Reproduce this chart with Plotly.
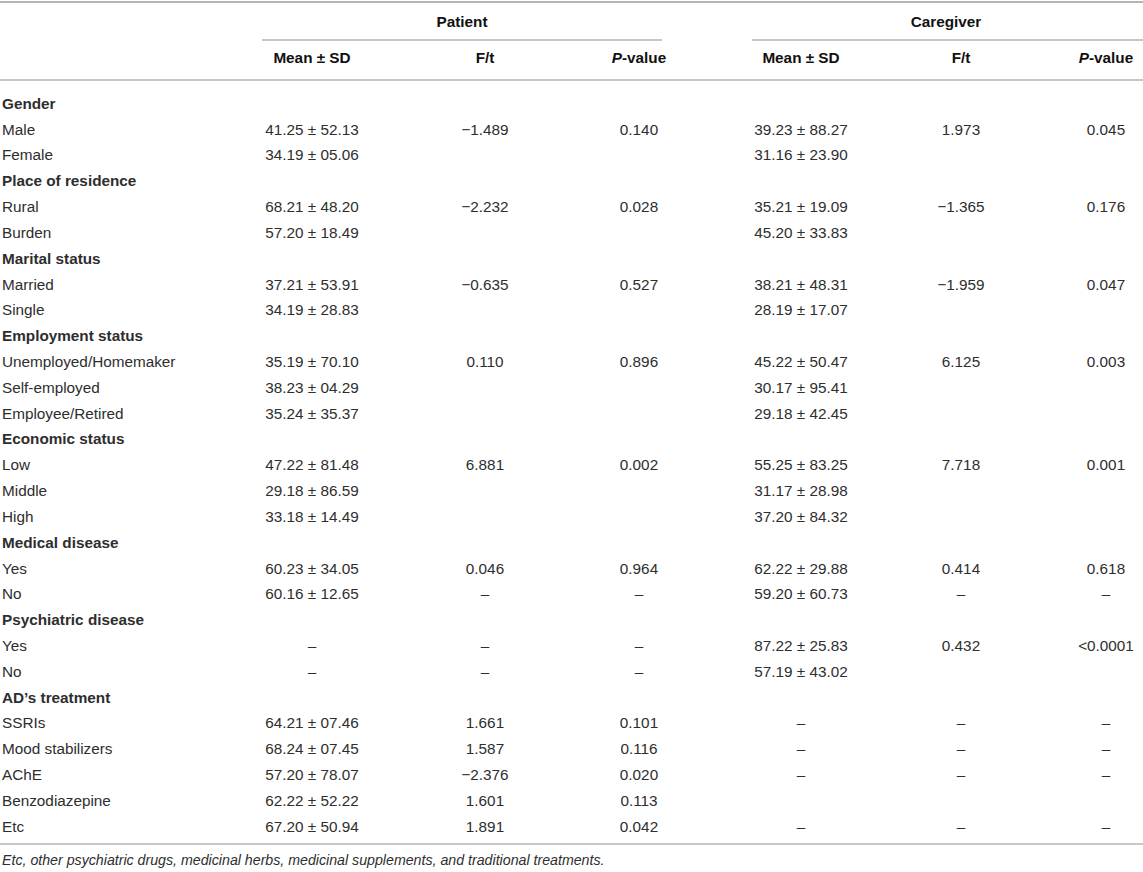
import plotly.graph_objects as go

# table content
row_labels = ["Gender", "Male", "Female",
              "Place of residence", "Rural", "Burden",
              "Marital status", "Married", "Single",
              "Employment status", "Unemployed/Homemaker", "Self-employed", "Employee/Retired",
              "Economic status", "Low", "Middle", "High",
              "Medical disease", "Yes", "No",
              "Psychiatric disease", "Yes", "No",
              "AD’s treatment", "SSRIs", "Mood stabilizers", "AChE", "Benzodiazepine", "Etc"]
is_group = [True, False, False,
            True, False, False,
            True, False, False,
            True, False, False, False,
            True, False, False, False,
            True, False, False,
            True, False, False,
            True, False, False, False, False, False]

patient_mean = ["", "41.25 ± 52.13", "34.19 ± 05.06",
                "", "68.21 ± 48.20", "57.20 ± 18.49",
                "", "37.21 ± 53.91", "34.19 ± 28.83",
                "", "35.19 ± 70.10", "38.23 ± 04.29", "35.24 ± 35.37",
                "", "47.22 ± 81.48", "29.18 ± 86.59", "33.18 ± 14.49",
                "", "60.23 ± 34.05", "60.16 ± 12.65",
                "", "–", "–",
                "", "64.21 ± 07.46", "68.24 ± 07.45", "57.20 ± 78.07", "62.22 ± 52.22", "67.20 ± 50.94"]
patient_ft = ["", "−1.489", "",
              "", "−2.232", "",
              "", "−0.635", "",
              "", "0.110", "", "",
              "", "6.881", "", "",
              "", "0.046", "–",
              "", "–", "–",
              "", "1.661", "1.587", "−2.376", "1.601", "1.891"]
patient_p = ["", "0.140", "",
             "", "0.028", "",
             "", "0.527", "",
             "", "0.896", "", "",
             "", "0.002", "", "",
             "", "0.964", "–",
             "", "–", "–",
             "", "0.101", "0.116", "0.020", "0.113", "0.042"]
caregiver_mean = ["", "39.23 ± 88.27", "31.16 ± 23.90",
                  "", "35.21 ± 19.09", "45.20 ± 33.83",
                  "", "38.21 ± 48.31", "28.19 ± 17.07",
                  "", "45.22 ± 50.47", "30.17 ± 95.41", "29.18 ± 42.45",
                  "", "55.25 ± 83.25", "31.17 ± 28.98", "37.20 ± 84.32",
                  "", "62.22 ± 29.88", "59.20 ± 60.73",
                  "", "87.22 ± 25.83", "57.19 ± 43.02",
                  "", "–", "–", "–", "", "–"]
caregiver_ft = ["", "1.973", "",
                "", "−1.365", "",
                "", "−1.959", "",
                "", "6.125", "", "",
                "", "7.718", "", "",
                "", "0.414", "–",
                "", "0.432", "",
                "", "–", "–", "–", "", "–"]
caregiver_p = ["", "0.045", "",
               "", "0.176", "",
               "", "0.047", "",
               "", "0.003", "", "",
               "", "0.001", "", "",
               "", "0.618", "–",
               "", "<0.0001", "",
               "", "–", "–", "–", "", "–"]

col_headers = ["<b>Mean ± SD</b>", "<b>F/t</b>", "<b><i>P</i>-value</b>",
               "<b>Mean ± SD</b>", "<b>F/t</b>", "<b><i>P</i>-value</b>"]
group_headers = ["<b>Patient</b>", "<b>Caregiver</b>"]
footnote = "<i>Etc, other psychiatric drugs, medicinal herbs, medicinal supplements, and traditional treatments.</i>"

W, H = 1143, 872
FONT = "Liberation Sans, Arial, Helvetica, sans-serif"
TXT = "#2e2e2e"
LINE = "#b4b4b4"
FS = 15.3

col_x = [312, 485, 639, 801, 961, 1106]
row0, pitch = 105, 25.82
row_y = [row0 + i * pitch for i in range(len(row_labels))]

fig = go.Figure()

# row labels
fig.add_trace(go.Scatter(
    x=[2] * len(row_labels), y=row_y, mode="text",
    text=["<b>%s</b>" % l if g else l for l, g in zip(row_labels, is_group)],
    textposition="middle right",
    textfont=dict(family=FONT, size=FS, color=TXT),
    hoverinfo="skip", showlegend=False))

# value columns
for cx, col in zip(col_x, [patient_mean, patient_ft, patient_p,
                           caregiver_mean, caregiver_ft, caregiver_p]):
    fig.add_trace(go.Scatter(
        x=[cx] * len(col), y=row_y, mode="text", text=col,
        textposition="middle center",
        textfont=dict(family=FONT, size=FS, color=TXT),
        hoverinfo="skip", showlegend=False))

# column headers
fig.add_trace(go.Scatter(
    x=col_x, y=[59] * len(col_x), mode="text", text=col_headers,
    textposition="middle center",
    textfont=dict(family=FONT, size=FS, color="#111111"),
    hoverinfo="skip", showlegend=False))
fig.add_trace(go.Scatter(
    x=[462, 946], y=[23, 23], mode="text", text=group_headers,
    textposition="middle center",
    textfont=dict(family=FONT, size=FS, color="#111111"),
    hoverinfo="skip", showlegend=False))

# footnote
fig.add_trace(go.Scatter(
    x=[2], y=[861], mode="text", text=[footnote],
    textposition="middle right",
    textfont=dict(family=FONT, size=14.2, color=TXT),
    hoverinfo="skip", showlegend=False))

# rules
rules = [(0, W, 2, 2.0), (262, 662, 40, 1.5), (752, W, 40, 1.5),
         (0, W, 80, 1.5), (0, W, 844, 1.5)]
for x0, x1, y, w in rules:
    fig.add_shape(type="line", xref="x", yref="y", x0=x0, x1=x1, y0=y, y1=y,
                  line=dict(color=LINE, width=w))

fig.update_xaxes(range=[0, W], visible=False, fixedrange=True)
fig.update_yaxes(range=[H, 0], visible=False, fixedrange=True)
fig.update_layout(width=W, height=H, margin=dict(l=0, r=0, t=0, b=0),
                  paper_bgcolor="white", plot_bgcolor="white")

fig.write_html("out.html", config={"displayModeBar": False},
               post_script="document.body.style.margin='0';document.body.style.overflow='hidden';")
